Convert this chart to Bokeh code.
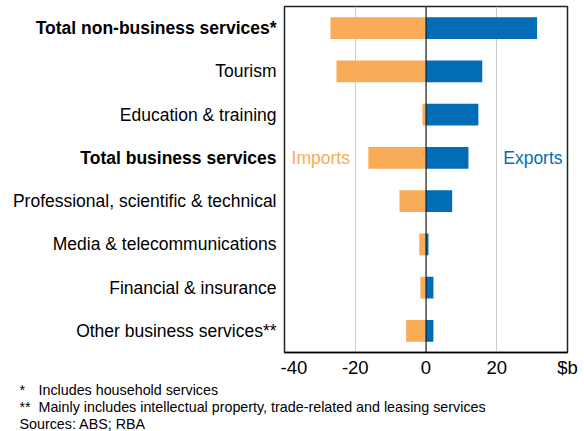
from bokeh.plotting import figure
from bokeh.models import Span, FixedTicker, Range1d
from bokeh.layouts import column, row
from bokeh.core.properties import value
from bokeh.embed import file_html
from bokeh.resources import INLINE

categories = ["Total non-business services*", "Tourism", "Education & training",
              "Total business services", "Professional, scientific & technical",
              "Media & telecommunications", "Financial & insurance",
              "Other business services**"]
bold_rows = ["Total non-business services*", "Total business services"]
imports = [-27.0, -25.3, -1.0, -16.3, -7.5, -1.9, -1.6, -5.6]
exports = [31.4, 15.9, 14.8, 12.0, 7.4, 0.7, 2.1, 2.1]
x_ticks = [-40, -20, 0, 20, 40]
x_tick_labels = {-40: "-40", -20: "-20", 0: "0", 20: "20", 40: "$b"}
foot_marks = ["*", "**", ""]
foot_texts = ["Includes household services",
              "Mainly includes intellectual property, trade-related and leasing services",
              "Sources: ABS; RBA"]

ORANGE = "#F9AB57"
BLUE = "#006DB6"
FONT = "Liberation Sans"

n = len(categories)
ypos = [n - 0.5 - i for i in range(n)]
yr = Range1d(0, n)

TOP, BOTTOM, H = 6, 24, 380

# main chart
m = figure(width=304, height=H, x_range=(-40, 40), y_range=yr,
           output_backend="svg", toolbar_location=None, y_axis_location=None,
           min_border_left=4, min_border_right=17, min_border_top=TOP,
           min_border_bottom=BOTTOM)
m.outline_line_color = "#222222"
m.outline_line_width = 1.5
m.ygrid.visible = False
m.xaxis.ticker = FixedTicker(ticks=x_ticks)
m.xaxis.major_label_overrides = x_tick_labels
m.xaxis.major_label_text_font = FONT
m.xaxis.major_label_text_font_size = "18.5px"
m.xaxis.major_label_text_color = "black"
m.xaxis.major_tick_line_color = None
m.xaxis.major_tick_out = 0
m.xaxis.major_tick_in = 0
m.xaxis.minor_tick_line_color = None
m.xaxis.axis_line_color = "black"
m.xaxis.axis_line_width = 1.5
m.xaxis.major_label_standoff = 4
m.xgrid.grid_line_color = "#cccccc"
m.xgrid.grid_line_width = 1

m.hbar(y=ypos, left=0, right=imports, height=0.5, color=ORANGE, line_color=None)
m.hbar(y=ypos, left=0, right=exports, height=0.5, color=BLUE, line_color=None)
m.add_layout(Span(location=0, dimension="height", line_color="black", line_width=1))

m.text(x=[-38], y=[ypos[3]], text=["Imports"], text_align="left",
       text_baseline="middle", text_font=value(FONT), text_font_size="17.5px",
       text_color=ORANGE)
m.text(x=[38.6], y=[ypos[3]], text=["Exports"], text_align="right",
       text_baseline="middle", text_font=value(FONT), text_font_size="17.5px",
       text_color=BLUE)

# category labels
lab = figure(width=280, height=H, x_range=(0, 1), y_range=yr,
             output_backend="svg", toolbar_location=None,
             x_axis_location=None, y_axis_location=None,
             min_border_left=0, min_border_right=0, min_border_top=TOP,
             min_border_bottom=BOTTOM)
lab.outline_line_color = None
lab.grid.visible = False
styles = ["bold" if c in bold_rows else "normal" for c in categories]
lab.text(x=[1] * n, y=ypos, text=categories, x_offset=-4, text_align="right",
         text_baseline="middle", text_font=value(FONT), text_font_size="17.5px",
         text_color="black", text_font_style=styles)

# footnotes
fh = 431 - H
f = figure(width=584, height=fh, x_range=(0, 584), y_range=(fh, 0),
           output_backend="svg", toolbar_location=None,
           x_axis_location=None, y_axis_location=None,
           min_border_left=0, min_border_right=0, min_border_top=0,
           min_border_bottom=0)
f.outline_line_color = None
f.grid.visible = False
line_y = [9, 26.5, 43]
f.text(x=[19] * 3, y=line_y, text=foot_marks, text_align="left",
       text_baseline="middle", text_font=value(FONT), text_font_size="14.3px",
       text_color="black")
f.text(x=[38, 38, 19], y=line_y, text=foot_texts, text_align="left",
       text_baseline="middle", text_font=value(FONT), text_font_size="14.3px",
       text_color="black")

layout = column(row(lab, m), f)
open("out.html", "w").write(file_html(layout, INLINE))
